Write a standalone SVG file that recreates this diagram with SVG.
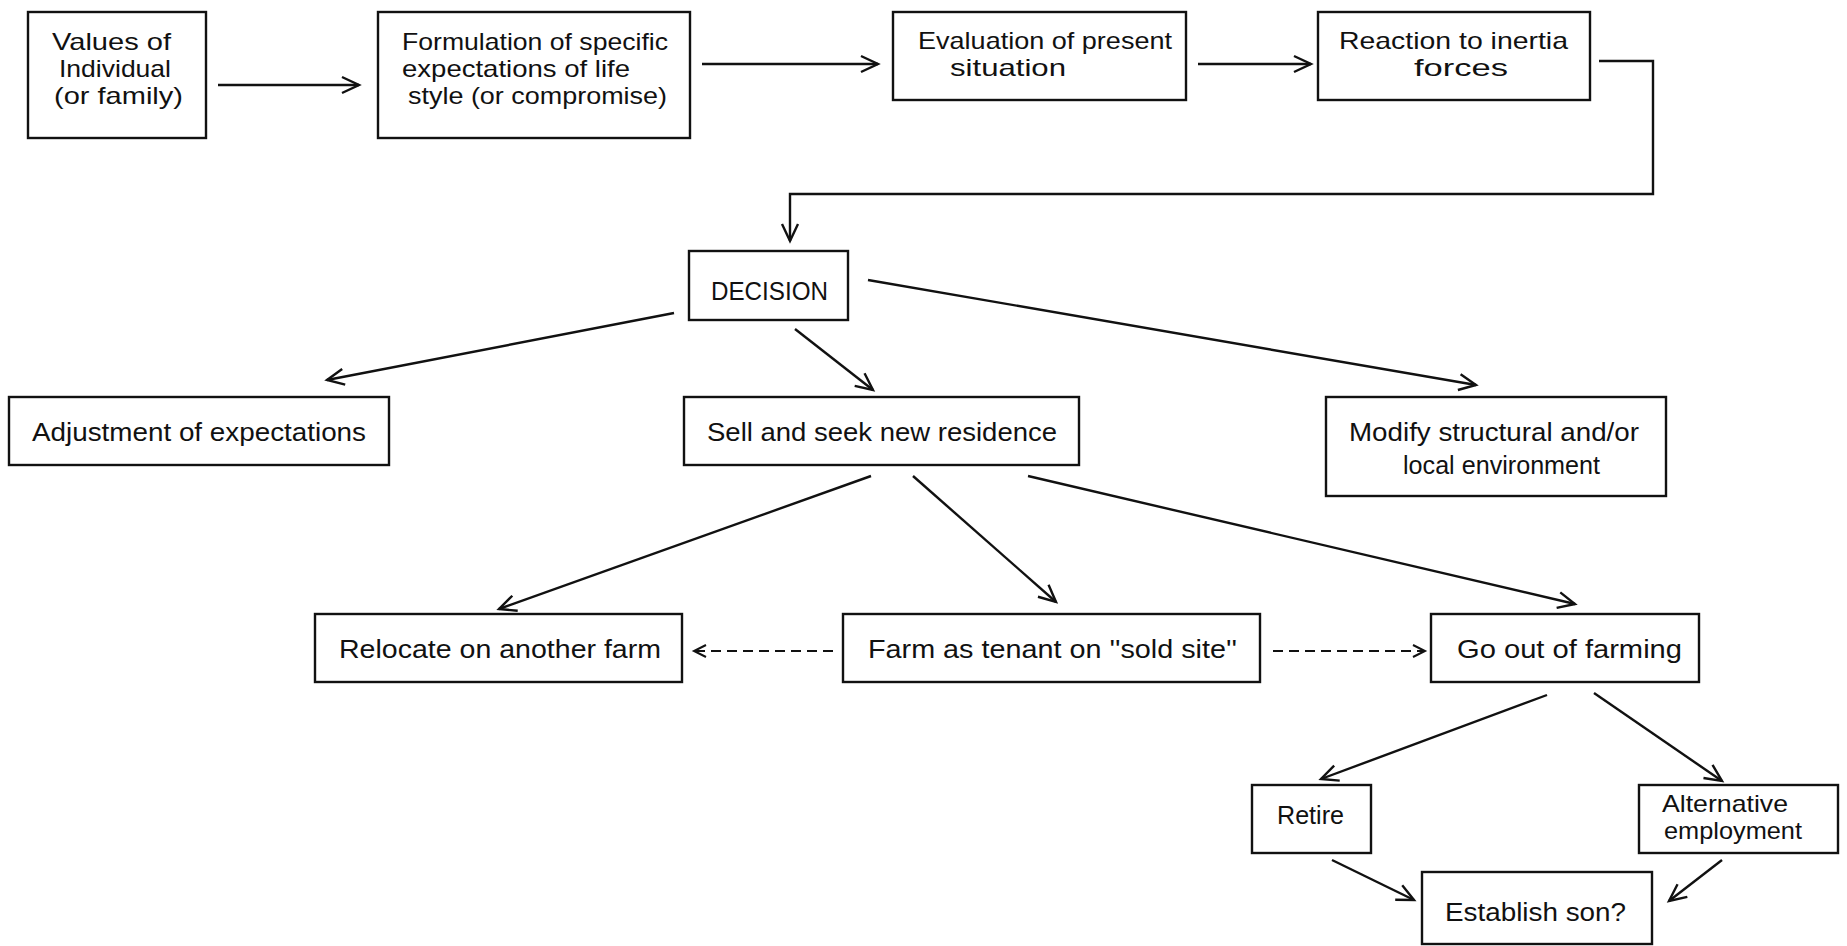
<svg xmlns="http://www.w3.org/2000/svg" width="1847" height="946" viewBox="0 0 1847 946">
<style>
.box{fill:#fff;stroke:#111;stroke-width:2.4}
.t{font-family:"Liberation Sans",Arial,sans-serif;font-size:26px;fill:#111}
.s{font-size:24px}
.c{fill:none;stroke:#111;stroke-width:2.4}
.d{fill:none;stroke:#111;stroke-width:2;stroke-dasharray:10 6}
</style>
<defs>
<marker id="ah" markerUnits="userSpaceOnUse" markerWidth="24" markerHeight="24" refX="18" refY="9" orient="auto" viewBox="0 0 24 18">
<path d="M1,1 L18,9 L1,17" fill="none" stroke="#111" stroke-width="2.4"/>
</marker>
<marker id="ahs" markerUnits="userSpaceOnUse" markerWidth="20" markerHeight="20" refX="13" refY="7" orient="auto" viewBox="0 0 20 14">
<path d="M1,1 L13,7 L1,13" fill="none" stroke="#111" stroke-width="2"/>
</marker>
</defs>
<rect width="1847" height="946" fill="#fff"/>
<g id="connectors">
<line class="c" x1="218" y1="85" x2="359" y2="85" marker-end="url(#ah)"/>
<line class="c" x1="702" y1="64" x2="878" y2="64" marker-end="url(#ah)"/>
<line class="c" x1="1198" y1="64" x2="1311" y2="64" marker-end="url(#ah)"/>
<polyline class="c" points="1599,61 1653,61 1653,194 790,194 790,241" marker-end="url(#ah)"/>
<line class="c" x1="674" y1="313" x2="327" y2="380" marker-end="url(#ah)"/>
<line class="c" x1="795" y1="329" x2="873" y2="390" marker-end="url(#ah)"/>
<line class="c" x1="868" y1="280" x2="1476" y2="385" marker-end="url(#ah)"/>
<line class="c" x1="871" y1="476" x2="499" y2="609" marker-end="url(#ah)"/>
<line class="c" x1="913" y1="476" x2="1056" y2="602" marker-end="url(#ah)"/>
<line class="c" x1="1028" y1="476" x2="1575" y2="604" marker-end="url(#ah)"/>
<line class="d" x1="833" y1="651" x2="694" y2="651" marker-end="url(#ahs)"/>
<line class="d" x1="1273" y1="651" x2="1425" y2="651" marker-end="url(#ahs)"/>
<line class="c" x1="1547" y1="695" x2="1321" y2="779" marker-end="url(#ah)"/>
<line class="c" x1="1594" y1="693" x2="1722" y2="781" marker-end="url(#ah)"/>
<line class="c" x1="1332" y1="860" x2="1414" y2="900" marker-end="url(#ah)"/>
<line class="c" x1="1722" y1="860" x2="1669" y2="901" marker-end="url(#ah)"/>
</g>
<g id="n-values">
<rect class="box" x="28" y="12" width="178" height="126"/>
<text class="t s" x="52" y="50" textLength="119" lengthAdjust="spacingAndGlyphs">Values of</text>
<text class="t s" x="59" y="77" textLength="112" lengthAdjust="spacingAndGlyphs">Individual</text>
<text class="t s" x="54" y="104" textLength="129" lengthAdjust="spacingAndGlyphs">(or family)</text>
</g>
<g id="n-formulation">
<rect class="box" x="378" y="12" width="312" height="126"/>
<text class="t s" x="402" y="50" textLength="266" lengthAdjust="spacingAndGlyphs">Formulation of specific</text>
<text class="t s" x="402" y="77" textLength="228" lengthAdjust="spacingAndGlyphs">expectations of life</text>
<text class="t s" x="408" y="104" textLength="259" lengthAdjust="spacingAndGlyphs">style (or compromise)</text>
</g>
<g id="n-evaluation">
<rect class="box" x="893" y="12" width="293" height="88"/>
<text class="t s" x="918" y="49" textLength="254" lengthAdjust="spacingAndGlyphs">Evaluation of present</text>
<text class="t s" x="950" y="76" textLength="116" lengthAdjust="spacingAndGlyphs">situation</text>
</g>
<g id="n-reaction">
<rect class="box" x="1318" y="12" width="272" height="88"/>
<text class="t s" x="1339" y="49" textLength="229" lengthAdjust="spacingAndGlyphs">Reaction to inertia</text>
<text class="t s" x="1414" y="76" textLength="94" lengthAdjust="spacingAndGlyphs">forces</text>
</g>
<g id="n-decision">
<rect class="box" x="689" y="251" width="159" height="69"/>
<text class="t" x="711" y="300" textLength="117" lengthAdjust="spacingAndGlyphs">DECISION</text>
</g>
<g id="n-adjustment">
<rect class="box" x="9" y="397" width="380" height="68"/>
<text class="t" x="32" y="441" textLength="334" lengthAdjust="spacingAndGlyphs">Adjustment of expectations</text>
</g>
<g id="n-sell">
<rect class="box" x="684" y="397" width="395" height="68"/>
<text class="t" x="707" y="441" textLength="350" lengthAdjust="spacingAndGlyphs">Sell and seek new residence</text>
</g>
<g id="n-modify">
<rect class="box" x="1326" y="397" width="340" height="99"/>
<text class="t" x="1349" y="441" textLength="290" lengthAdjust="spacingAndGlyphs">Modify  structural and/or</text>
<text class="t" x="1403" y="474" textLength="197" lengthAdjust="spacingAndGlyphs">local environment</text>
</g>
<g id="n-relocate">
<rect class="box" x="315" y="614" width="367" height="68"/>
<text class="t" x="339" y="658" textLength="322" lengthAdjust="spacingAndGlyphs">Relocate on another farm</text>
</g>
<g id="n-tenant">
<rect class="box" x="843" y="614" width="417" height="68"/>
<text class="t" x="868" y="658" textLength="369" lengthAdjust="spacingAndGlyphs">Farm as tenant on ''sold site''</text>
</g>
<g id="n-goout">
<rect class="box" x="1431" y="614" width="268" height="68"/>
<text class="t" x="1457" y="658" textLength="225" lengthAdjust="spacingAndGlyphs">Go out of farming</text>
</g>
<g id="n-retire">
<rect class="box" x="1252" y="785" width="119" height="68"/>
<text class="t" x="1277" y="824" textLength="67" lengthAdjust="spacingAndGlyphs">Retire</text>
</g>
<g id="n-alternative">
<rect class="box" x="1639" y="785" width="199" height="68"/>
<text class="t s" x="1662" y="812" textLength="126" lengthAdjust="spacingAndGlyphs">Alternative</text>
<text class="t s" x="1664" y="839" textLength="138" lengthAdjust="spacingAndGlyphs">employment</text>
</g>
<g id="n-establish">
<rect class="box" x="1422" y="872" width="230" height="72"/>
<text class="t" x="1445" y="921" textLength="181" lengthAdjust="spacingAndGlyphs">Establish son?</text>
</g>
</svg>
